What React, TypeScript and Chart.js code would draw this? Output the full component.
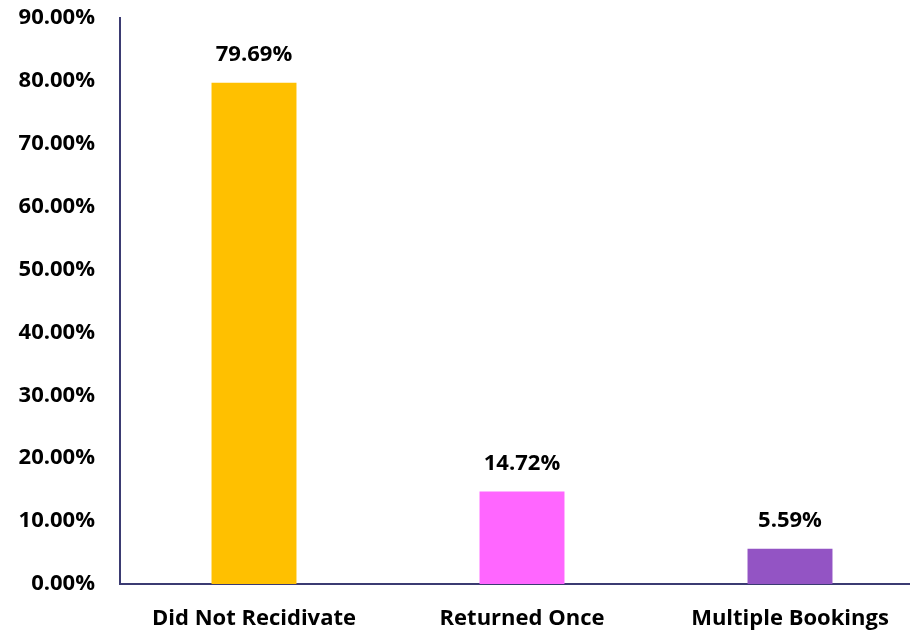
import React, { useEffect, useRef } from "react";
import { Chart, registerables } from "chart.js";

Chart.register(...registerables);

const categories = ["Did Not Recidivate", "Returned Once", "Multiple Bookings"];
const values = [79.69, 14.72, 5.59];
const barColors = ["#FFC000", "#FF66FF", "#9354C4"];
const yTicks = [0, 10, 20, 30, 40, 50, 60, 70, 80, 90];

const FONT = "'Open Sans', 'Liberation Sans', sans-serif";
const AXIS_COLOR = "#3B3B72";

const labelPlugin = {
  id: "barLabels",
  afterDatasetsDraw(chart: any) {
    const ctx = chart.ctx;
    const meta = chart.getDatasetMeta(0);
    ctx.save();
    ctx.font = `bold 22px ${FONT}`;
    ctx.fillStyle = "#000000";
    ctx.textAlign = "center";
    ctx.textBaseline = "middle";
    meta.data.forEach((bar: any, i: number) => {
      ctx.fillText(values[i].toFixed(2) + "%", bar.x, bar.y - 28);
    });
    ctx.restore();
  },
};

export default function App() {
  const ref = useRef<HTMLCanvasElement>(null);
  useEffect(() => {
    if (!ref.current) return;
    const chart = new Chart(ref.current, {
      type: "bar",
      data: {
        labels: categories,
        datasets: [
          {
            data: values,
            backgroundColor: barColors,
            categoryPercentage: 1,
            barPercentage: 0.317,
          },
        ],
      },
      options: {
        animation: false,
        responsive: false,
        maintainAspectRatio: false,
        layout: { padding: { top: 18, right: 6, left: 0, bottom: 0 } },
        plugins: { legend: { display: false }, tooltip: { enabled: false } },
        scales: {
          x: {
            grid: { display: false, drawTicks: false },
            border: { display: true, color: AXIS_COLOR, width: 2 },
            ticks: {
              color: "#000000",
              font: { family: FONT, weight: "bold", size: 22 },
              padding: 22,
              maxRotation: 0,
            },
            afterFit: (scale: any) => {
              scale.height = 49;
              scale.paddingLeft = 0;
              scale.paddingRight = 0;
            },
          },
          y: {
            min: 0,
            max: 90,
            afterBuildTicks: (scale: any) => {
              scale.ticks = yTicks.map((v) => ({ value: v }));
            },
            grid: { display: false, drawTicks: false },
            border: { display: true, color: AXIS_COLOR, width: 2 },
            ticks: {
              color: "#000000",
              font: { family: FONT, weight: "bold", size: 22 },
              padding: 25,
              callback: (v: any) => Number(v).toFixed(2) + "%",
            },
            afterFit: (scale: any) => {
              scale.width = 120;
              scale.paddingTop = 0;
              scale.paddingBottom = 0;
            },
          },
        },
      },
      plugins: [labelPlugin],
    });
    return () => chart.destroy();
  }, []);
  return (
    <div
      style={{
        position: "fixed",
        left: 0,
        top: 0,
        width: 910,
        height: 633,
        overflow: "hidden",
        background: "#ffffff",
      }}
    >
      <canvas ref={ref} width={930} height={633} style={{ display: "block" }} />
    </div>
  );
}
